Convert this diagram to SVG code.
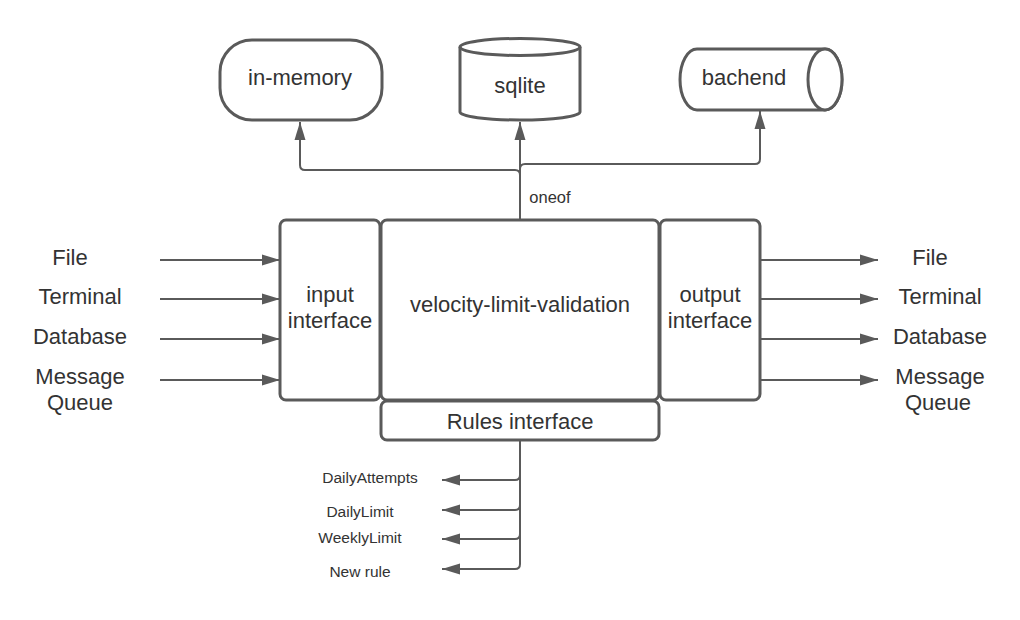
<svg xmlns="http://www.w3.org/2000/svg" width="1020" height="620" viewBox="0 0 1020 620">
<defs>
<style>
.box{fill:#fff;stroke:#5a5a5a;stroke-width:3}
.ln{fill:none;stroke:#5a5a5a;stroke-width:2}
.t{font-family:"Liberation Sans",Arial,sans-serif;fill:#333;text-anchor:middle}
.l20{font-size:22px}
.l15{font-size:16.5px}
.l14{font-size:15.5px}
</style>
<marker id="ah" markerUnits="userSpaceOnUse" markerWidth="20" markerHeight="12" refX="18" refY="6" orient="auto">
<path d="M0,0.5 L18,6 L0,11.5 z" fill="#5a5a5a"/>
</marker>
</defs>
<rect width="1020" height="620" fill="#fff"/>

<g id="connectors">
<path class="ln" marker-end="url(#ah)" d="M520,220 V175 Q520,170 515,170 H305 Q300,170 300,165 V122"/>
<path class="ln" marker-end="url(#ah)" d="M520,220 V122"/>
<path class="ln" marker-end="url(#ah)" d="M520,175 V169 Q520,164 525,164 H755 Q760,164 760,159 V111"/>
<text class="t l15" x="550" y="203">oneof</text>

<path class="ln" marker-end="url(#ah)" d="M160,260 H280"/>
<path class="ln" marker-end="url(#ah)" d="M160,299 H280"/>
<path class="ln" marker-end="url(#ah)" d="M160,339 H280"/>
<path class="ln" marker-end="url(#ah)" d="M160,380 H280"/>

<path class="ln" marker-end="url(#ah)" d="M760,260 H878"/>
<path class="ln" marker-end="url(#ah)" d="M760,299 H878"/>
<path class="ln" marker-end="url(#ah)" d="M760,339 H878"/>
<path class="ln" marker-end="url(#ah)" d="M760,380 H878"/>

<path class="ln" marker-end="url(#ah)" d="M520,440 V475 Q520,480 515,480 H442"/>
<path class="ln" marker-end="url(#ah)" d="M520,475 V505 Q520,510 515,510 H442"/>
<path class="ln" marker-end="url(#ah)" d="M520,505 V534 Q520,539 515,539 H442"/>
<path class="ln" marker-end="url(#ah)" d="M520,534 V564 Q520,569 515,569 H442"/>
</g>

<g id="in-memory">
<rect class="box" x="220" y="40" width="162" height="80" rx="32" ry="32"/>
<text class="t l20" x="300" y="85">in-memory</text>
</g>

<g id="sqlite">
<path class="box" d="M460,47 A60,8.5 0 0 1 580,47 V112 A60,8 0 0 1 460,112 Z"/>
<path class="ln" style="stroke-width:3" d="M460,47 A60,8.5 0 0 0 580,47"/>
<text class="t l20" x="520" y="93">sqlite</text>
</g>

<g id="bachend">
<path class="box" d="M697,49 H825 A17,30.5 0 0 1 825,110 H697 A17,30.5 0 0 1 697,49 Z"/>
<ellipse class="box" cx="825" cy="79.5" rx="17" ry="30.5"/>
<text class="t l20" x="744" y="85">bachend</text>
</g>

<g id="input-interface">
<rect class="box" x="280" y="220" width="100" height="180" rx="6"/>
<text class="t l20" x="330" y="302">input</text>
<text class="t l20" x="330" y="328">interface</text>
</g>

<g id="velocity-limit-validation">
<rect class="box" x="381" y="220" width="278" height="180" rx="6"/>
<text class="t l20" x="520" y="312">velocity-limit-validation</text>
</g>

<g id="output-interface">
<rect class="box" x="660" y="220" width="100" height="180" rx="6"/>
<text class="t l20" x="710" y="302">output</text>
<text class="t l20" x="710" y="328">interface</text>
</g>

<g id="rules-interface">
<rect class="box" x="381" y="401" width="278" height="39" rx="6"/>
<text class="t l20" x="520" y="429">Rules interface</text>
</g>

<g id="inputs">
<text class="t l20" x="70" y="265">File</text>
<text class="t l20" x="80" y="304">Terminal</text>
<text class="t l20" x="80" y="344">Database</text>
<text class="t l20" x="80" y="384">Message</text>
<text class="t l20" x="80" y="410">Queue</text>
</g>

<g id="outputs">
<text class="t l20" x="930" y="265">File</text>
<text class="t l20" x="940" y="304">Terminal</text>
<text class="t l20" x="940" y="344">Database</text>
<text class="t l20" x="940" y="384">Message</text>
<text class="t l20" x="938" y="410">Queue</text>
</g>

<g id="rules">
<text class="t l14" x="370" y="483">DailyAttempts</text>
<text class="t l14" x="360" y="517">DailyLimit</text>
<text class="t l14" x="360" y="543">WeeklyLimit</text>
<text class="t l14" x="360" y="577">New rule</text>
</g>
</svg>
